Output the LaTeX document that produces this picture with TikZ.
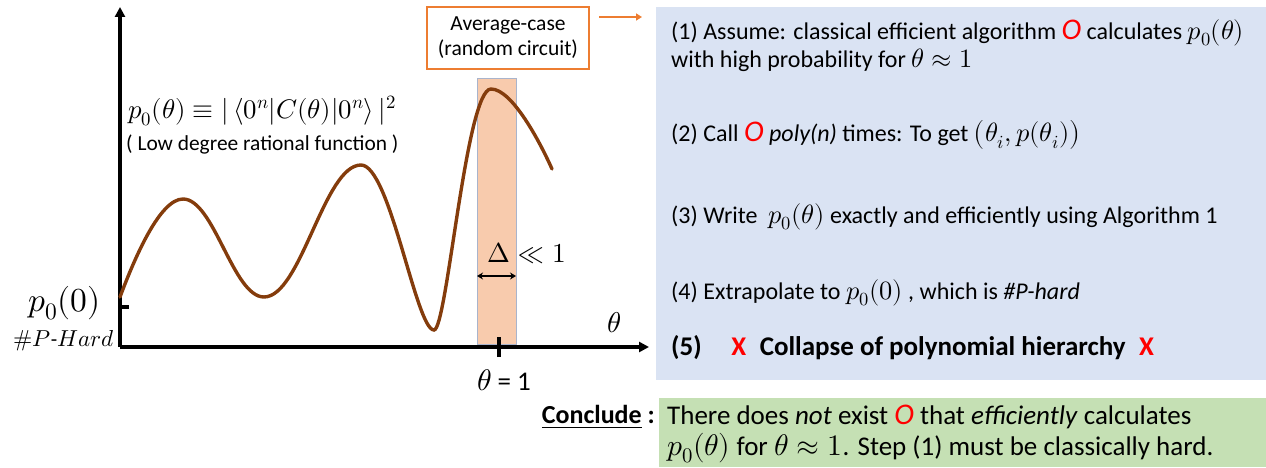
\documentclass[tikz,border=0pt]{standalone}
\usepackage{amsmath}
\usepackage{fontspec}
\usepackage{unicode-math}
\setmainfont{Carlito}
\setmathfont{Latin Modern Math}[Scale=1.1]
\usetikzlibrary{arrows.meta}
\definecolor{panelblue}{HTML}{DAE3F3}
\definecolor{panelgreen}{HTML}{C5E0B4}
\definecolor{bandfill}{HTML}{F8CBAD}
\definecolor{bandedge}{HTML}{A9B4CC}
\definecolor{orng}{HTML}{ED7D31}
\definecolor{curvebrown}{HTML}{843C0C}
\newcommand{\redO}{{\color{red}\fontsize{30}{30}\selectfont\textit{O}}}
\tikzset{
  axis/.style={line width=3.2pt, -{Triangle[length=10pt,width=10pt]}},
  tickmark/.style={line width=3.2pt},
  body/.style={anchor=west, inner sep=0pt, font=\fontsize{24}{28}\selectfont},
  biglabel/.style={inner sep=0pt, font=\fontsize{30.5}{32}\selectfont},
}
\begin{document}
\begin{tikzpicture}[x=1pt,y=1pt]
\useasboundingbox (0,0) rectangle (1266,467);
% panels
\node[fill=panelblue, minimum width=610pt, minimum height=373pt, inner sep=0pt, anchor=south west] (panel) at (656,87) {};
\node[fill=panelgreen, minimum width=607pt, minimum height=69pt, inner sep=0pt, anchor=south west] (concl) at (659,0) {};
% band
\node[fill=bandfill, draw=bandedge, line width=1pt, minimum width=39pt, minimum height=266pt, inner sep=0pt, anchor=south west] (band) at (477,122) {};
% axes
\coordinate (origin) at (120,120);
\coordinate (ytop) at (120,460);
\coordinate (xend) at (649,120);
\draw[axis] (origin) -- (ytop);
\draw[axis] (origin) -- (xend);
% curve
\draw[curvebrown, line width=3.4pt, line cap=round]
  (120,170) .. controls (135,210) and (160,268) .. (183,268)
  .. controls (214,268) and (233,170) .. (264,170)
  .. controls (301,170) and (324,302) .. (361,302)
  .. controls (390,302) and (416,137) .. (434,137)
  .. controls (447,137) and (466,378) .. (491,378)
  .. controls (512,378) and (540,325) .. (552,298);
% ticks
\coordinate (ytick) at (120,160);
\draw[tickmark] (ytick) -- ++(9,0);
\coordinate (xtick) at (499,110);
\draw[tickmark] (xtick) -- ++(0,20);
% labels
\node[biglabel, anchor=east] (p00) at (101,164) {$p_0(0)$};
\node[inner sep=0pt, anchor=east, font=\fontsize{21}{24}\selectfont] (phard) at (114,126) {$\#P\text{-}Hard$};
\node[inner sep=0pt, font=\fontsize{27}{30}\selectfont] (thetaone) at (504,87) {$\theta$ = 1};
\node[inner sep=0pt, font=\fontsize{26}{28}\selectfont] (thetax) at (614,144) {$\theta$};
\node[inner sep=0pt, font=\fontsize{24.9}{28}\selectfont, anchor=west] (delta) at (487,214) {$\Delta \ll 1$};
\coordinate (dl) at (477,191);
\coordinate (dr) at (516,191);
\draw[line width=1.6pt, {Stealth[length=6pt,width=7pt]}-{Stealth[length=6pt,width=7pt]}] (dl) -- (dr);
\node[inner sep=0pt, anchor=west, font=\fontsize{24.4}{28}\selectfont] (formula) at (128,356) {$p_0(\theta) \equiv |\,\langle 0^n|C(\theta)|0^n\rangle\,|^2$};
\node[inner sep=0pt, anchor=west, font=\fontsize{21.4}{24}\selectfont] (lowdeg) at (126,322) {( Low degree rational function )};
% average-case box
\node[draw=orng, line width=1.2pt, fill=white, minimum width=162pt, minimum height=62pt, align=center, font=\fontsize{21.5}{25}\selectfont] (avg) at (508,429) {Average-case\\(random circuit)};
\coordinate (arrS) at (599,450);
\draw[orng, line width=2.2pt, -{Triangle[length=6pt,width=7pt]}, shorten >=14pt] (arrS) -- (arrS -| panel.west);
% panel text
\node[body] (s1) at (671,434) {(1) Assume: classical efficient algorithm \redO{} calculates $p_0(\theta)$};
\node[body] (s1b) at (671,407) {with high probability for $\theta\approx 1$};
\node[body] (s2) at (671,332) {(2) Call \redO{} \textit{poly(n)} times: To get $\bigl(\theta_i, p(\theta_i)\bigr)$};
\node[body] (s3) at (671,250) {(3) Write \ $p_0(\theta)$ exactly and efficiently using Algorithm 1};
\node[body] (s4) at (671,174) {(4) Extrapolate to $p_0(0)$ , which is \textit{\#P-hard}};
\node[body, font=\fontsize{27}{29}\selectfont\bfseries] (s5) at (671,119) {(5)\hspace{1.1em}{\color{red}X}\hspace{0.5em}Collapse of polynomial hierarchy\hspace{0.5em}{\color{red}X}};
\node[inner sep=0pt, anchor=east, font=\fontsize{26}{29}\selectfont\bfseries] (conc) at (655,50) {\underline{Conclude} :};
\node[body, font=\fontsize{27}{30}\selectfont] (c1) at (667,50) {There does \textit{not} exist \redO{} that \textit{efficiently} calculates};
\node[body, font=\fontsize{27}{30}\selectfont] (c2) at (667,19) {$p_0(\theta)$ for $\theta\approx 1$. Step (1) must be classically hard.};
\end{tikzpicture}
\end{document}
